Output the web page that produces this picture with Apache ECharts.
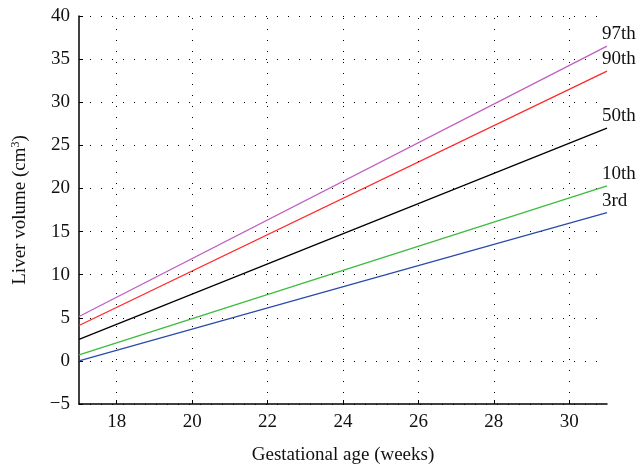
<!DOCTYPE html>
<html><head><meta charset="utf-8">
<script src="https://cdn.jsdelivr.net/npm/echarts@6/dist/echarts.min.js"></script>
<style>html,body{margin:0;padding:0;background:#fff}#c{width:640px;height:468px}</style>
</head><body><div id="c"></div>
<script>
const xEnds = [17, 31];
const xTicks = [18, 20, 22, 24, 26, 28, 30];
const seriesNames = ['97th', '90th', '50th', '10th', '3rd'];
const p97 = [5.15, 36.5];
const p90 = [4.1, 33.6];
const p50 = [2.5, 27.0];
const p10 = [0.7, 20.3];
const p3 = [0.0, 17.2];
const colors = ['#bf5fbf', '#ff2a2a', '#000000', '#3dbb3d', '#2a4aaa'];
const allData = [p97, p90, p50, p10, p3];

const font = '"Liberation Serif", "DejaVu Serif", serif';
const fs = 19;
const chart = echarts.init(document.getElementById('c'));
const dottedStyle = {color: '#000', type: [1, 10], width: 1};
const series = allData.map((d, i) => ({
  name: seriesNames[i], type: 'line', symbol: 'none', z: 3,
  data: xEnds.map((x, j) => [x, d[j]]),
  lineStyle: {color: colors[i], width: 1.3},
  endLabel: {
    show: true, formatter: seriesNames[i], offset: [-13, -12],
    color: '#111', fontFamily: font, fontSize: fs
  }
}));
series.push({
  type: 'line', data: [], symbol: 'none', z: 1, silent: true,
  markLine: {
    silent: true, symbol: 'none', animation: false,
    label: {show: false},
    lineStyle: dottedStyle,
    emphasis: {disabled: true},
    data: xTicks.map(v => ({xAxis: v}))
  }
});
chart.setOption({
  animation: false,
  grid: {left: 79, right: 33, top: 16, bottom: 64, outerBoundsMode: 'none', containLabel: false},
  xAxis: {
    type: 'value', min: 17, max: 31,
    axisLabel: {
      color: '#111', fontFamily: font, fontSize: fs, margin: 9,
      customValues: xTicks
    },
    axisLine: {onZero: false, lineStyle: {color: '#000', width: 1.5}},
    axisTick: {inside: true, length: 4, lineStyle: {color: '#000'}, customValues: xTicks},
    splitLine: {show: false},
    name: 'Gestational age (weeks)', nameLocation: 'middle', nameGap: 42,
    nameTextStyle: {color: '#111', fontFamily: font, fontSize: fs}
  },
  yAxis: {
    type: 'value', min: -5, max: 40, interval: 5,
    axisLabel: {
      color: '#111', fontFamily: font, fontSize: fs, margin: 9,
      formatter: v => String(v).replace('-', '\u2212')
    },
    axisLine: {show: true, onZero: false, lineStyle: {color: '#000', width: 1.5}},
    axisTick: {show: true, inside: true, length: 4, lineStyle: {color: '#000'}},
    splitLine: {show: true, lineStyle: dottedStyle},
    name: '{a|Liver volume (cm}{s|3}{a|)}', nameLocation: 'middle', nameGap: 48,
    nameTextStyle: {
      rich: {
        a: {color: '#111', fontFamily: font, fontSize: fs},
        s: {color: '#111', fontFamily: font, fontSize: 12, verticalAlign: 'top', padding: [0, 0, 9, 0]}
      }
    }
  },
  series: series
});
</script></body></html>
